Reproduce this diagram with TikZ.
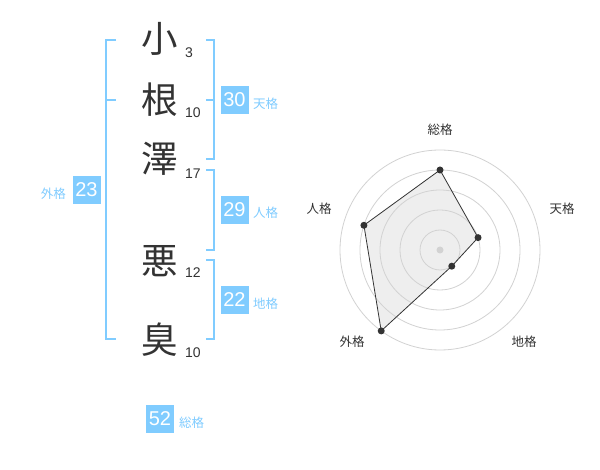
\documentclass[tikz,border=0pt]{standalone}
\usepackage{fontspec}
\setmainfont{Liberation Sans}
\newfontfamily\jp{Noto Sans CJK JP}
\definecolor{bl}{RGB}{128,204,255}
\definecolor{ink}{RGB}{51,51,51}
\definecolor{ring}{RGB}{210,210,210}
\definecolor{polyfill}{RGB}{238,238,238}
\begin{document}
\begin{tikzpicture}[x=1pt,y=-1pt,
  kanji/.style={font=\jp\fontsize{36.5}{37}\selectfont, text=ink, inner sep=0pt},
  strokes/.style={font=\fontsize{14}{14}\selectfont, text=ink, anchor=base west, inner sep=0pt},
  valbox/.style={fill=bl, text=white, minimum size=28pt, inner sep=0pt, font=\fontsize{20}{20}\selectfont},
  vlabel/.style={text=bl, font=\jp\fontsize{12.5}{13}\selectfont, inner sep=0pt},
  rlabel/.style={text=ink, font=\jp\fontsize{12.5}{13}\selectfont, inner sep=0pt},
  bracket/.style={draw=bl, line width=2pt},
  ringline/.style={draw=ring, line width=0.8pt},
  dot/.style={fill=ink}
]
\useasboundingbox (0,0) rectangle (600,470);
\fill[white] (0,0) rectangle (600,470);

% kanji
\node[kanji] (k1) at (160,39) {小};
\node[kanji] (k2) at (160,100) {根};
\node[kanji] (k3) at (160,159) {澤};
\node[kanji] (k4) at (160,261) {悪};
\node[kanji] (k5) at (160,340) {臭};

% stroke counts
\node[strokes] (s1) at (185,57.3) {3};
\node[strokes] (s2) at (185,117.7) {10};
\node[strokes] (s3) at (185,178.3) {17};
\node[strokes] (s4) at (185,277.3) {12};
\node[strokes] (s5) at (185,357.3) {10};

% brackets
\draw[bracket] (116,40) -- (106,40) -- (106,339) -- (116,339);
\draw[bracket] (106,100) -- (116,100);
\draw[bracket] (206,40) -- (214,40) -- (214,159) -- (206,159);
\draw[bracket] (206,100) -- (214,100);
\draw[bracket] (206,170) -- (214,170) -- (214,250) -- (206,250);
\draw[bracket] (206,260) -- (214,260) -- (214,339) -- (206,339);

% value boxes
\node[valbox] (ten) at (234.5,100) {30};
\node[vlabel, anchor=west] (tenl) at (253,104) {天格};
\node[valbox] (jin) at (234.5,210) {29};
\node[vlabel, anchor=west] (jinl) at (253,213) {人格};
\node[valbox] (chi) at (234.5,300) {22};
\node[vlabel, anchor=west] (chil) at (253,304) {地格};
\node[valbox] (gai) at (86.5,190) {23};
\node[vlabel, anchor=east] (gail) at (66,194) {外格};
\node[valbox] (sou) at (160,419) {52};
\node[vlabel, anchor=west] (soul) at (179,423) {総格};

% radar
\coordinate (c) at (440,250);
\coordinate (p1) at (440,170);
\coordinate (p2) at (478.04,237.64);
\coordinate (p3) at (451.76,266.18);
\coordinate (p4) at (381.22,330.9);
\coordinate (p5) at (363.92,225.28);
\fill[polyfill] (p1) -- (p2) -- (p3) -- (p4) -- (p5) -- cycle;
\foreach \r in {20,40,60,80,100} \draw[ringline] (c) circle[radius=\r];
\fill[ring] (c) circle[radius=3.5];
\draw[ink, line width=0.8pt] (p1) -- (p2) -- (p3) -- (p4) -- (p5) -- cycle;
\foreach \p in {p1,p2,p3,p4,p5} \fill[dot] (\p) circle[radius=3.5];

\node[rlabel] (r1) at (440,130) {総格};
\node[rlabel] (r2) at (562,209) {天格};
\node[rlabel] (r3) at (524,342) {地格};
\node[rlabel] (r4) at (352,342) {外格};
\node[rlabel] (r5) at (319,209) {人格};
\end{tikzpicture}
\end{document}
